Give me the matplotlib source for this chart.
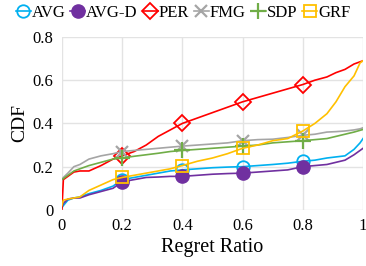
import matplotlib
matplotlib.use("Agg")
import matplotlib.pyplot as plt

# regret ratio sample points
ratio = [0, 0.005, 0.02, 0.04, 0.06, 0.09, 0.13, 0.17, 0.2, 0.24, 0.28, 0.32, 0.36, 0.4,
         0.45, 0.5, 0.55, 0.6, 0.65, 0.7, 0.75, 0.8, 0.84, 0.88, 0.91, 0.94, 0.97, 0.99, 1.0]

avg = [0.01, 0.02, 0.045, 0.055, 0.06, 0.075, 0.09, 0.11, 0.14, 0.15, 0.16, 0.17, 0.18, 0.185,
       0.19, 0.195, 0.198, 0.20, 0.205, 0.21, 0.216, 0.225, 0.23, 0.24, 0.245, 0.25, 0.28, 0.31, 0.33]
avg_d = [0.01, 0.03, 0.05, 0.055, 0.055, 0.07, 0.085, 0.10, 0.13, 0.14, 0.15, 0.152, 0.155, 0.155,
         0.16, 0.165, 0.168, 0.17, 0.175, 0.18, 0.185, 0.20, 0.205, 0.21, 0.22, 0.23, 0.255, 0.275, 0.285]
per = [0, 0.14, 0.155, 0.175, 0.18, 0.18, 0.205, 0.235, 0.25, 0.27, 0.30, 0.34, 0.37, 0.40,
       0.425, 0.45, 0.475, 0.50, 0.52, 0.54, 0.56, 0.58, 0.60, 0.615, 0.635, 0.65, 0.675, 0.685, 0.69]
fmg = [0.14, 0.15, 0.17, 0.20, 0.21, 0.235, 0.25, 0.26, 0.27, 0.275, 0.28, 0.285, 0.29, 0.295,
       0.30, 0.305, 0.31, 0.32, 0.325, 0.327, 0.335, 0.345, 0.35, 0.36, 0.362, 0.365, 0.37, 0.375, 0.38]
sdp = [0.14, 0.145, 0.16, 0.18, 0.19, 0.205, 0.22, 0.235, 0.24, 0.248, 0.255, 0.262, 0.27, 0.275,
       0.28, 0.285, 0.29, 0.295, 0.30, 0.31, 0.315, 0.32, 0.325, 0.33, 0.34, 0.35, 0.36, 0.368, 0.372]
grf = [0.02, 0.045, 0.05, 0.055, 0.06, 0.09, 0.115, 0.14, 0.15, 0.16, 0.17, 0.18, 0.19, 0.205,
       0.225, 0.24, 0.26, 0.285, 0.30, 0.32, 0.33, 0.365, 0.40, 0.445, 0.50, 0.57, 0.62, 0.68, 0.69]

marker_x = [0.2, 0.4, 0.6, 0.8]
mark_idx = [ratio.index(v) for v in marker_x]

plt.rcParams["font.family"] = ["Liberation Serif", "DejaVu Serif"]

fig = plt.figure(figsize=(3.66, 2.66), dpi=100)
ax = fig.add_axes([0.169, 0.211, 0.823, 0.650])

series = [
    ("AVG", avg, "#00B0F0", dict(marker="o", mfc="none", ms=9, mew=1.3)),
    ("AVG-D", avg_d, "#7030A0", dict(marker="o", mfc="#7030A0", ms=9.5)),
    ("PER", per, "#FF0000", dict(marker="D", mfc="none", ms=8, mew=1.3)),
    ("FMG", fmg, "#A5A5A5", dict(marker="x", ms=9, mew=1.6)),
    ("SDP", sdp, "#70AD47", dict(marker="+", ms=11, mew=1.6)),
    ("GRF", grf, "#FFC000", dict(marker="s", mfc="none", ms=9, mew=1.3)),
]
for name, vals, col, mk in series:
    ax.plot(ratio, vals, color=col, lw=1.2, label=name, markevery=mark_idx, **mk)

ax.set_xlim(0, 1)
ax.set_ylim(0, 0.8)
ax.set_xticks([0, 0.2, 0.4, 0.6, 0.8, 1.0])
ax.set_xticklabels(["0", "0.2", "0.4", "0.6", "0.8", "1"])
ax.set_yticks([0, 0.2, 0.4, 0.6, 0.8])
ax.set_yticklabels(["0", "0.2", "0.4", "0.6", "0.8"])
ax.tick_params(length=0, labelsize=12, pad=6)
for s in ax.spines.values():
    s.set_visible(False)
ax.grid(True, color="#E3E3E3", lw=1.0)
ax.set_axisbelow(True)

ax.set_xlabel("Regret Ratio", fontsize=14.5, labelpad=3)
ax.set_ylabel("CDF", fontsize=14, labelpad=3)

fig.legend(loc="upper center", bbox_to_anchor=(0.5, 1.02), ncol=6, frameon=False,
           fontsize=12, handlelength=0.9, handletextpad=0.05, columnspacing=0.3,
           borderaxespad=0.2)

fig.savefig("out.png", dpi=100)
